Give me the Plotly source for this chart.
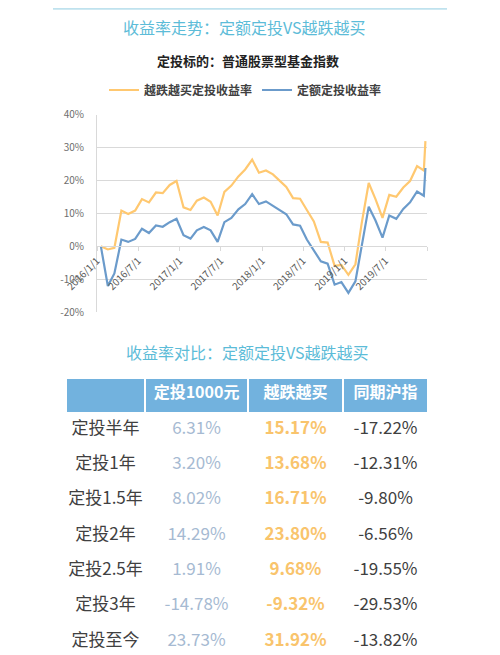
import plotly.graph_objects as go

# 数据：每月定投收益率（%），最后一点为"至今"
dates = [
    "2016-01-18", "2016-02-18", "2016-03-18", "2016-04-18", "2016-05-18", "2016-06-18",
    "2016-07-18", "2016-08-18", "2016-09-18", "2016-10-18", "2016-11-18", "2016-12-18",
    "2017-01-18", "2017-02-18", "2017-03-18", "2017-04-18", "2017-05-18", "2017-06-18",
    "2017-07-18", "2017-08-18", "2017-09-18", "2017-10-18", "2017-11-18", "2017-12-18",
    "2018-01-18", "2018-02-18", "2018-03-18", "2018-04-18", "2018-05-18", "2018-06-18",
    "2018-07-18", "2018-08-18", "2018-09-18", "2018-10-18", "2018-11-18", "2018-12-18",
    "2019-01-18", "2019-02-18", "2019-03-18", "2019-04-18", "2019-05-18", "2019-06-18",
    "2019-07-18", "2019-08-18", "2019-09-18", "2019-10-18", "2019-11-18", "2019-12-18",
    "2019-12-25",
]
yue_die_yue_mai = [
    0, -1.0, -0.5, 10.8, 9.8, 10.8, 14.3, 13.3, 16.3, 16.1, 18.6, 19.8,
    11.8, 11.0, 13.8, 14.8, 13.5, 9.3, 16.5, 18.4, 21.2, 23.3, 26.3, 22.3,
    23.0, 21.8, 20.0, 18.0, 14.6, 14.4, 11.0, 7.5, 1.3, 1.1, -6.0, -5.7,
    -8.7, -5.5, 7.0, 19.2, 14.3, 8.6, 15.6, 15.0, 17.8, 19.8, 24.3, 23.0,
    31.92,
]
ding_e = [
    0, -12.1, -8.3, 2.0, 1.3, 2.2, 5.3, 4.0, 6.3, 5.9, 7.3, 8.3,
    3.3, 2.3, 4.8, 5.8, 4.8, 1.3, 7.3, 8.6, 11.2, 12.8, 15.8, 12.8,
    13.6, 12.3, 11.1, 9.7, 6.6, 6.2, 2.0, -1.3, -4.6, -5.3, -11.7, -10.9,
    -14.2, -10.7, 0.0, 12.0, 7.8, 2.6, 9.3, 8.3, 11.3, 13.3, 16.6, 15.3,
    23.73,
]
tick_dates = ["2016-01-01", "2016-07-01", "2017-01-01", "2017-07-01",
              "2018-01-01", "2018-07-01", "2019-01-01", "2019-07-01", "2020-01-01"]
tick_labels = ["2016/1/1", "2016/7/1", "2017/1/1", "2017/7/1",
               "2018/1/1", "2018/7/1", "2019/1/1", "2019/7/1", ""]
y_ticks = [-20, -10, 0, 10, 20, 30, 40]
y_labels = ["-20%", "-10%", "0%", "10%", "20%", "30%", "40%"]

# 表格数据
periods = ["定投半年", "定投1年", "定投1.5年", "定投2年", "定投2.5年", "定投3年", "定投至今"]
col_dingtou = ["6.31%", "3.20%", "8.02%", "14.29%", "1.91%", "-14.78%", "23.73%"]
col_yuedie = ["15.17%", "13.68%", "16.71%", "23.80%", "9.68%", "-9.32%", "31.92%"]
col_huzhi = ["-17.22%", "-12.31%", "-9.80%", "-6.56%", "-19.55%", "-29.53%", "-13.82%"]
headers = ["", "定投1000元", "越跌越买", "同期沪指"]

FONT = "Noto Sans CJK SC"
W, H = 500, 655
OFF = 8  # 页面 body 默认边距，整体上移/左移补偿
orange = "#FFC870"
blue = "#6B9BCB"
teal = "#5CBCD8"

def px(x):  # 参考图像素 -> paper 坐标
    return (x - OFF) / W

def py(y):
    return 1 - (y - OFF) / H

fig = go.Figure()

fig.add_trace(go.Scatter(x=dates, y=yue_die_yue_mai, mode="lines", name="越跌越买定投收益率",
                         line=dict(color=orange, width=2.2)))
fig.add_trace(go.Scatter(x=dates, y=ding_e, mode="lines", name="定额定投收益率",
                         line=dict(color=blue, width=2.2)))

fig.add_trace(go.Table(
    domain=dict(x=[px(66), px(428)], y=[0, py(378)]),
    columnwidth=[79, 103, 95, 85],
    header=dict(values=headers,
                fill_color="#72B2DE", line=dict(color="white", width=2),
                font=dict(family=FONT, size=16, color="white", weight="bold"),
                align="center", height=35),
    cells=dict(values=[periods, col_dingtou, col_yuedie, col_huzhi],
               fill_color="white", line=dict(color="white", width=1),
               font=dict(family=FONT, size=17,
                         color=["#404040", "#A6BAD2", "#F9C46C", "#404040"],
                         weight=["normal", "normal", "bold", "normal"]),
               align="center", height=35.3),
))

fig.update_layout(
    width=W, height=H,
    margin=dict(l=0, r=0, t=0, b=0, autoexpand=False),
    paper_bgcolor="white", plot_bgcolor="white",
    font=dict(family=FONT),
    showlegend=True,
    legend=dict(orientation="h", x=px(104), xanchor="left", y=py(90), yanchor="middle",
                font=dict(family=FONT, size=12, color="#404040", weight="bold"),
                itemwidth=30, tracegroupgap=0, bgcolor="rgba(0,0,0,0)"),
    xaxis=dict(domain=[px(97), px(427)], type="date", automargin=False,
               range=["2016-01-01", "2020-01-01"],
               anchor="free", position=py(246),
               tickvals=tick_dates, ticktext=tick_labels, tickangle=-45,
               tickfont=dict(size=10, color="#595959"),
               ticks="outside", ticklen=4, tickcolor="#D9D9D9",
               showline=True, linecolor="#D9D9D9", linewidth=1,
               showgrid=False, zeroline=False),
    yaxis=dict(domain=[py(312), py(114.5)], range=[-20, 40], automargin=False,
               tickvals=y_ticks, ticktext=y_labels,
               tickfont=dict(size=10, color="#6E6E6E"),
               ticklabelstandoff=10,
               showline=True, linecolor="#D9D9D9", linewidth=1,
               showgrid=True, gridcolor="#D9D9D9", gridwidth=1,
               zeroline=True, zerolinecolor="#D9D9D9", zerolinewidth=1),
)

fig.add_annotation(text="收益率走势：定额定投VS越跌越买", xref="paper", yref="paper",
                   x=px(244), y=py(27), xanchor="center", yanchor="middle", showarrow=False,
                   font=dict(family=FONT, size=16, color=teal))
fig.add_annotation(text="<b>定投标的：普通股票型基金指数</b>", xref="paper", yref="paper",
                   x=px(248), y=py(60), xanchor="center", yanchor="middle", showarrow=False,
                   font=dict(family=FONT, size=13, color="#222222"))
fig.add_annotation(text="收益率对比：定额定投VS越跌越买", xref="paper", yref="paper",
                   x=px(247), y=py(351.5), xanchor="center", yanchor="middle", showarrow=False,
                   font=dict(family=FONT, size=16, color=teal))

# 顶部浅蓝边线
fig.add_shape(type="line", xref="paper", yref="paper", x0=px(53), x1=px(447),
              y0=0.999, y1=0.999, line=dict(color="#BFE2EE", width=2))

fig.write_html("out.html")
